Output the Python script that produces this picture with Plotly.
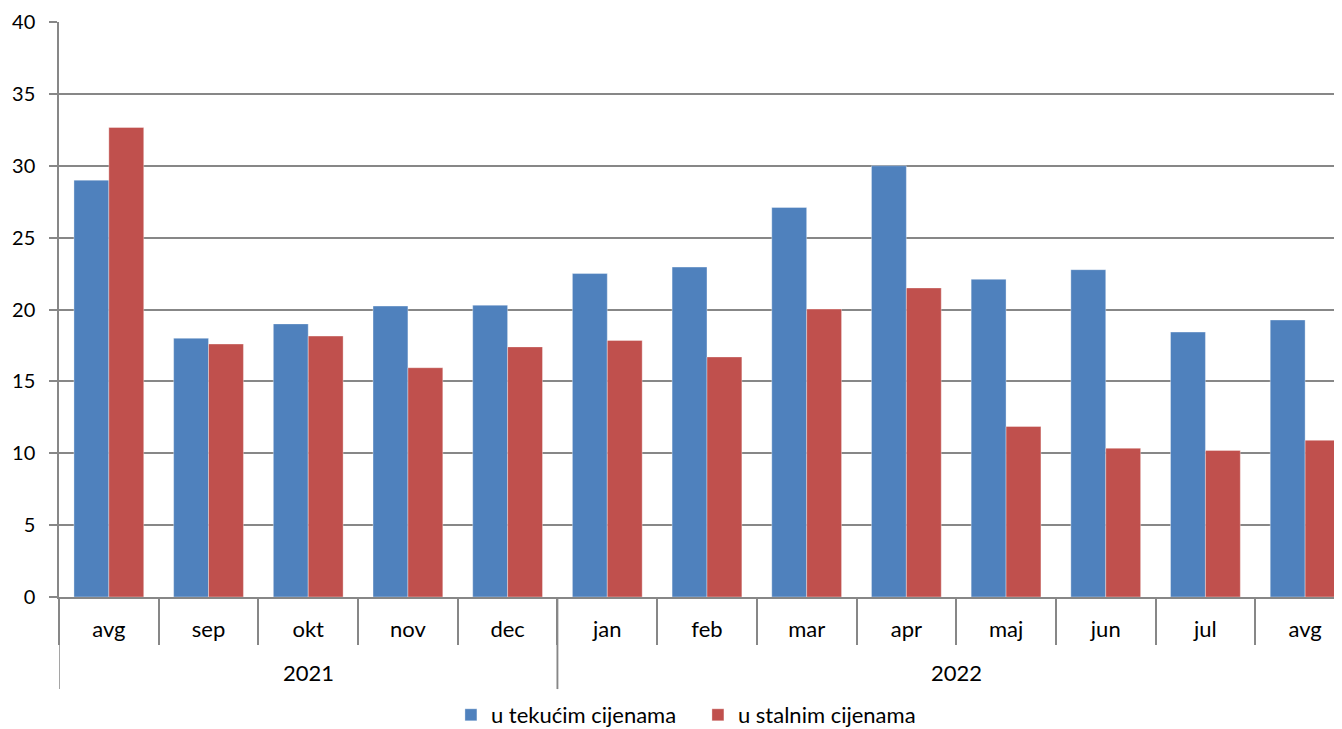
import plotly.graph_objects as go

years = ["2021"] * 5 + ["2022"] * 8
months = ["avg", "sep", "okt", "nov", "dec", "jan", "feb", "mar", "apr", "maj", "jun", "jul", "avg"]
tekuce = [29.0, 18.0, 19.0, 20.24, 20.3, 22.5, 22.95, 27.1, 30.0, 22.1, 22.77, 18.43, 19.27]
stalne = [32.66, 17.6, 18.15, 15.95, 17.4, 17.85, 16.7, 20.03, 21.5, 11.86, 10.35, 10.2, 10.9]
y_ticks = [0, 5, 10, 15, 20, 25, 30, 35, 40]

BLUE = "#4F81BD"
RED = "#C0504D"
GRID = "#878787"
FONT = "Lato"

W, H = 1334, 721  # page body has an 8px margin
idx = list(range(len(months)))
H_PLOT = 574.8

fig = go.Figure()
for name, vals, col in [("u tekućim cijenama", tekuce, BLUE), ("u stalnim cijenama", stalne, RED)]:
    fig.add_trace(go.Bar(
        x=idx, y=vals, name=name,
        marker=dict(color=col, line=dict(color="rgba(255,255,255,0.35)", width=1)),
    ))

groups = []
start = 0
for i in range(1, len(years) + 1):
    if i == len(years) or years[i] != years[start]:
        groups.append((years[start], start, i - 1))
        start = i

shapes = []
annotations = []
for yr, a, b in groups:
    for xb in (a - 0.5, b + 0.5):
        shapes.append(dict(type="line", xref="x", yref="paper", x0=xb, x1=xb,
                           y0=0, y1=-92 / H_PLOT, line=dict(color=GRID, width=1.5)))
    annotations.append(dict(x=(a + b) / 2, xref="x", y=-75 / H_PLOT, yref="paper",
                            text=yr, showarrow=False, yanchor="middle",
                            font=dict(family=FONT, size=22, color="#000")))

fig.update_layout(
    width=W, height=H,
    margin=dict(l=51, r=0, t=14, b=132),
    paper_bgcolor="white", plot_bgcolor="white",
    barmode="group", bargap=0.3, bargroupgap=0,
    font=dict(family=FONT, size=20, color="#000000"),
    showlegend=True,
    legend=dict(orientation="h", x=0.498, xanchor="center", y=14 / H, yanchor="middle",
                yref="container", font=dict(family=FONT, size=22), traceorder="normal",
                entrywidth=202, itemwidth=30),
    shapes=shapes, annotations=annotations,
)
fig.update_yaxes(
    range=[0, 40], tickmode="array", tickvals=y_ticks, showgrid=True, gridcolor=GRID, gridwidth=1.5,
    showline=True, linecolor=GRID, linewidth=1.5,
    ticks="outside", ticklen=8, tickcolor=GRID, tickwidth=1.5, ticklabelstandoff=10,
    zeroline=False, tickfont=dict(family=FONT, size=20), automargin=False,
)
fig.update_xaxes(
    range=[-0.5, 12.37], tickmode="array", tickvals=idx, ticktext=months,
    showline=True, linecolor=GRID, linewidth=1.5, showgrid=False, zeroline=False,
    ticks="", ticklabelstandoff=12,
    minor=dict(ticks="outside", tickmode="array", tickvals=[i - 0.5 for i in idx] + [len(idx) - 0.5],
               ticklen=46, tickcolor=GRID, tickwidth=1.5, showgrid=False),
    tickfont=dict(family=FONT, size=22), automargin=False,
)

fig.write_html("out.html")
